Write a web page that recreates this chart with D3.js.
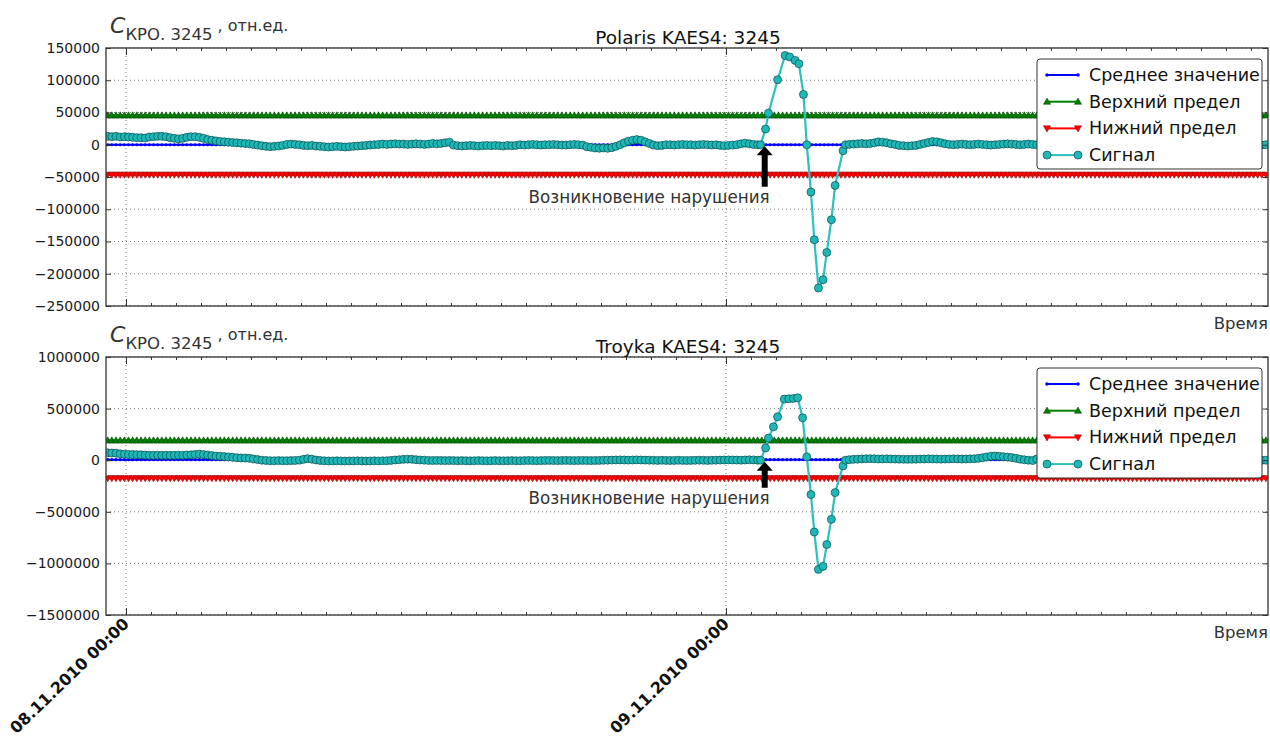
<!DOCTYPE html>
<html>
<head>
<meta charset="utf-8">
<script src="https://cdn.jsdelivr.net/npm/d3@7"></script>
<style>
  body { margin: 0; background: #fff; }
  text { font-family: "DejaVu Sans", sans-serif; }
</style>
</head>
<body>
<div id="chart"></div>
<script>
// ---- data (signal values in thousands of отн.ед.) ----
var sampleStart = new Date(2010, 10, 7, 23, 16);   // first 10-minute sample
var postStart = new Date(2010, 10, 9, 4, 56);      // first sample after the event
var eventDay = new Date(2010, 10, 9, 0, 0);        // event minutes are counted from here
var sampleCount = 279;

var preA = [13, 12.5, 13, 12, 12.5, 12, 11.5, 11, 11, 10.5,
  12, 12.5, 13, 13, 12.5, 11, 10, 9, 10, 11.5, 12.5, 12.5, 11.5, 10,
  8, 7, 6, 5, 4.5, 4, 3.5, 3, 2.5, 2, 1.5, 0.5, -0.5, -1.5, -2.5,
  -3, -2.5, -2, -1, 0.5, 1, 0.5, 0, -1, -1.5, -1, -2,
  -2.5, -3, -3.5, -3, -2.5, -3, -3.5, -3, -2.5, -2, -1.5, -1, -0.5, 0, 0.5,
  1, 0.5, 1, 1.5, 1, 1, 0.5, 1, 1.5, 1, 0.5, 1, 2, 1.5, 2, 3, 4,
  -0.5, -1.5, -2, -1.5, -1, -1.5, -2, -1.5, -1, -1.5, -1, -1.5, -2, -1, -1.5, -1,
  0, -0.5, 0, 0.5, 0, -0.5, 0, 0, 0.5, 0, -0.5, -0.5, 0, 0.5, 0, -0.5,
  -3, -4, -5, -5.5, -5, -5.5, -4.5, -2.5, 0, 3, 5.5, 7, 8, 7, 4.5, 2,
  -0.5, -1.5, -1, 0, 0, -0.5, 0, 0.5, 0, 0, -0.5, 0, 0.5, 0, -0.5, 0,
  -1, -1.5, -1, -0.5, 0, 1.5, 2.5, 1.5, 0.5, 0];
var eventMinA = [83, 95, 102, 124, 142, 153, 166, 175, 186, 194, 204, 212, 222, 233, 242, 253, 262, 281, 287];
var eventA = [0, 24.3, 49, 100.8, 138.4, 136, 130.7, 125.6, 78, 0, -73.3, -147.3, -222.2, -209.3, -167, -116.3, -63.1, -9.3, 0];
var postA = [0.5, 1, 1.5, 2, 1.5, 2, 3, 4.5, 4, 3, 1.5, 0.5,
  -1, -1.5, -2, -1.5, -1, 0.5, 2, 3.5, 5, 4.5, 3, 1.5, 0.5, 0, 0.5,
  1, 0.5, 0, 0.5, 1, 0.5, 0, -0.5, 0, 0.5, 1, 1.5, 1, 0.5, 0, 0.5, 1, 0.5,
  0, -0.5, 0, 0.5, 1, 0.5, 0, -0.5, -1, -0.5, 0, 0.5, 1, 1.5, 1, 0.5, 0, -0.5, 0, 0.5,
  0, -0.5, -1, -1.5, -1, -0.5, 0, 0.5, 1, 0.5, 0, 0, -0.5, 0, 0.5, 1, 0.5, 0, -0.5, -1,
  -0.5, 0, 0.5, 0, -0.5, 0, 0.5, 1, 0.5, 0, -0.5, 0, 0.5, 0, -0.5, 0];

var preB = [72, 70, 68, 62, 58, 56, 55, 54, 52, 50,
  48, 48, 49, 48, 48, 47, 48, 49, 48, 50, 52, 56, 58, 55,
  50, 45, 40, 38, 35, 32, 28, 24, 22, 21, 18, 12, 6, 0, -3,
  -5, -5, -4, -5, -5, -4, -3, 0, 8, 15, 10, 2,
  -3, -6, -7, -7, -6, -7, -8, -7, -7, -6, -7, -8, -7, -6, -7,
  -6, -5, -2, 2, 5, 8, 10, 9, 5, 2, 0, -2, -3, -2, -3, -4, -3,
  -4, -5, -4, -5, -6, -5, -4, -5, -6, -5, -4, -5, -6, -5, -4, -5,
  -5, -4, -3, -4, -5, -4, -3, -2, -3, -4, -3, -2, -3, -4, -3, -2,
  -3, -4, -3, -2, -1, 0, 1, 2, 3, 2, 1, 2, 3, 2, 1, 0,
  -1, -2, -1, -2, -3, -2, -1, -2, -3, -2, -1, 0, -1, -2, -1, 0,
  1, 2, 3, 2, 1, 0, 2, 4, 3, 0];
var eventMinB = [83, 95, 102, 114, 124, 140, 151, 162, 172, 184, 194, 204, 212, 222, 233, 242, 253, 262, 281, 287];
var eventB = [0, 119, 214, 323, 420, 592, 595, 599, 605, 411, 32, -333, -696, -1058, -1029, -818, -573, -314, -55, 0];
var postB = [5, 8, 10, 12, 14, 15, 14, 12, 12, 13, 12, 11,
  10, 9, 8, 9, 10, 11, 12, 13, 12, 11, 10, 11, 12, 13, 12,
  11, 12, 13, 14, 18, 24, 32, 38, 40, 38, 34, 30, 25, 18, 10, 4, 0, -3,
  12, 10, 8, 6, 5, 4, 5, 6, 5, 4, 3, 2, 3, 4, 5, 6, 5, 4, 3, 2,
  1, 0, 1, 2, 3, 4, 3, 2, 1, 0, -1, 0, 1, 2, 1, 0, -1, -2, -1, 0,
  1, 2, 3, 2, 1, 0, 1, 2, 1, 0, -1, 0, 1, 0, -1, 0];

var meanLevel = [0, 5000];
var upperLimit = [45500, 192000];
var lowerLimit = [-46500, -175000];

var titles = ["Polaris KAES4: 3245", "Troyka KAES4: 3245"];
var yDomains = [[-250000, 150000], [-1500000, 1000000]];
var yTicksA = [-250000, -200000, -150000, -100000, -50000, 0, 50000, 100000, 150000];
var yTicksB = [-1500000, -1000000, -500000, 0, 500000, 1000000];
var dayTicks = [new Date(2010, 10, 8), new Date(2010, 10, 9)];
var xDomain = [new Date(2010, 10, 7, 23, 12), new Date(2010, 10, 9, 21, 41)];
var legendNames = ["Среднее значение", "Верхний предел", "Нижний предел", "Сигнал"];
var annotMinute = 93;                 // arrow position, minutes after 09.11 00:00
var annotTextValue = [-90000, -423000];
var annotText = "Возникновение нарушения";

// ---- layout ----
var svgWidth = 1270, svgHeight = 736;
var plotL = 106, plotR = 1268, plotH = 258;
var panelTops = [48, 357];

var svg = d3.select("#chart").append("svg")
  .attr("width", svgWidth)
  .attr("height", svgHeight);
var defs = svg.append("defs");

var x = d3.scaleTime().domain(xDomain).range([plotL, plotR]);
var gridTimes = d3.range(sampleCount).map(function(i) { return d3.timeMinute.offset(sampleStart, i * 10); });

var cSig = "#1fb8b8", cSigEdge = "#0b4c4c", cLine = "#2cc0c0";
var triUp = "M0,-3.6L3.6,2.6L-3.6,2.6Z";
var triDown = "M0,3.6L3.6,-2.6L-3.6,-2.6Z";
var sans = "Liberation Sans, Arial, sans-serif";

function signalPoints(pre, evMin, ev, post) {
  var pts = [];
  pre.forEach(function(v, i) { pts.push({ t: d3.timeMinute.offset(sampleStart, i * 10), v: v * 1000 }); });
  evMin.forEach(function(m, i) { pts.push({ t: d3.timeMinute.offset(eventDay, m), v: ev[i] * 1000 }); });
  post.forEach(function(v, i) { pts.push({ t: d3.timeMinute.offset(postStart, i * 10), v: v * 1000 }); });
  return pts;
}

var signals = [signalPoints(preA, eventMinA, eventA, postA), signalPoints(preB, eventMinB, eventB, postB)];
var yTickSets = [yTicksA, yTicksB];

function drawPanel(k) {
  var top = panelTops[k], bottom = top + plotH;
  var y = d3.scaleLinear().domain(yDomains[k]).range([bottom, top]);
  var g = svg.append("g");

  defs.append("clipPath").attr("id", "clip" + k)
    .append("rect").attr("x", plotL).attr("y", top)
    .attr("width", plotR - plotL).attr("height", plotH);

  // dotted grid
  g.append("g").selectAll("line").data(yTickSets[k]).enter().append("line")
    .attr("x1", plotL).attr("x2", plotR)
    .attr("y1", function(d) { return y(d); }).attr("y2", function(d) { return y(d); })
    .attr("stroke", "#555").attr("stroke-width", 0.8).attr("stroke-dasharray", "1,3");
  g.append("g").selectAll("line").data(dayTicks).enter().append("line")
    .attr("x1", function(d) { return x(d); }).attr("x2", function(d) { return x(d); })
    .attr("y1", top).attr("y2", bottom)
    .attr("stroke", "#555").attr("stroke-width", 0.8).attr("stroke-dasharray", "1,3");

  var data = g.append("g").attr("clip-path", "url(#clip" + k + ")");

  // mean value
  var flat = function(level) {
    return d3.line().x(function(d) { return x(d); }).y(function() { return y(level); });
  };
  data.append("path").datum(gridTimes).attr("d", flat(meanLevel[k]))
    .attr("fill", "none").attr("stroke", "#0000ff").attr("stroke-width", 2);
  data.append("g").selectAll("circle").data(gridTimes).enter().append("circle")
    .attr("cx", function(d) { return x(d); }).attr("cy", y(meanLevel[k])).attr("r", 1.6)
    .attr("fill", "#0000ff");

  // upper / lower limits
  [[upperLimit[k], "#008000", "#003a00", triUp], [lowerLimit[k], "#ff0000", "#7a0000", triDown]].forEach(function(s) {
    data.append("path").datum(gridTimes).attr("d", flat(s[0]))
      .attr("fill", "none").attr("stroke", s[1]).attr("stroke-width", 2);
    data.append("g").selectAll("path").data(gridTimes).enter().append("path")
      .attr("d", s[3])
      .attr("transform", function(d) { return "translate(" + x(d) + "," + y(s[0]) + ")"; })
      .attr("fill", s[1]).attr("stroke", s[2]).attr("stroke-width", 0.5);
  });

  // signal
  var sig = signals[k];
  data.append("path").datum(sig)
    .attr("d", d3.line().x(function(d) { return x(d.t); }).y(function(d) { return y(d.v); }))
    .attr("fill", "none").attr("stroke", cLine).attr("stroke-width", 2.2);
  data.append("g").selectAll("circle").data(sig).enter().append("circle")
    .attr("cx", function(d) { return x(d.t); }).attr("cy", function(d) { return y(d.v); })
    .attr("r", 4).attr("fill", cSig).attr("stroke", cSigEdge).attr("stroke-width", 0.7);

  // axes (ticks pointing inward)
  var hours = x.ticks(d3.timeHour.every(1));
  var axes = [
    [d3.axisBottom(x).tickValues(hours).tickSizeInner(-3), "translate(0," + bottom + ")"],
    [d3.axisTop(x).tickValues(hours).tickSizeInner(-3), "translate(0," + top + ")"],
    [d3.axisBottom(x).tickValues(dayTicks).tickSizeInner(-7), "translate(0," + bottom + ")"],
    [d3.axisTop(x).tickValues(dayTicks).tickSizeInner(-7), "translate(0," + top + ")"],
    [d3.axisRight(y).tickValues(yTickSets[k]).tickSizeInner(-5), "translate(" + plotR + ",0)"]
  ];
  axes.forEach(function(a) {
    var ax = g.append("g").attr("transform", a[1])
      .call(a[0].tickSizeOuter(0).tickFormat(""));
    ax.select(".domain").remove();
    ax.selectAll("line").attr("stroke", "#333");
  });
  var left = g.append("g").attr("transform", "translate(" + plotL + ",0)")
    .call(d3.axisLeft(y).tickValues(yTickSets[k]).tickSizeInner(-5).tickSizeOuter(0)
      .tickPadding(6).tickFormat(d3.format("d")));
  left.select(".domain").remove();
  left.selectAll("line").attr("stroke", "#333");
  left.selectAll("text").attr("font-size", 14).attr("fill", "#1a1a1a")
    .attr("font-family", "DejaVu Sans");

  g.append("rect").attr("x", plotL).attr("y", top)
    .attr("width", plotR - plotL).attr("height", plotH)
    .attr("fill", "none").attr("stroke", "#333").attr("stroke-width", 1.3);

  // title
  g.append("text").attr("x", 688).attr("y", top - 4).attr("text-anchor", "middle")
    .attr("font-family", sans).attr("font-size", 18.5)
    .attr("fill", "#111").text(titles[k]);

  // y label
  var lab = g.append("text").attr("x", 110).attr("y", top - 15)
    .attr("font-family", sans).attr("fill", "#333");
  lab.append("tspan").attr("font-style", "italic").attr("font-size", 22).text("C");
  lab.append("tspan").attr("font-size", 16.5).attr("dy", 7).text("КРО. 3245");
  lab.append("tspan").attr("font-size", 16).attr("dy", -9).text(" , отн.ед.");

  // x label
  g.append("text").attr("x", plotR).attr("y", bottom + 23).attr("text-anchor", "end")
    .attr("font-family", sans).attr("font-size", 16.5)
    .attr("fill", "#333").text("Время");

  // annotation arrow
  var ax0 = x(d3.timeMinute.offset(eventDay, annotMinute));
  var textY = y(annotTextValue[k]);
  var tipY = y(0) + 1.5, baseY = textY - 16;
  g.append("path")
    .attr("d", "M" + ax0 + "," + tipY + "L" + (ax0 + 8) + "," + (tipY + 9) + "L" + (ax0 + 3) + "," + (tipY + 9) +
      "L" + (ax0 + 3) + "," + baseY + "L" + (ax0 - 3) + "," + baseY + "L" + (ax0 - 3) + "," + (tipY + 9) +
      "L" + (ax0 - 8) + "," + (tipY + 9) + "Z")
    .attr("fill", "#000");
  g.append("text").attr("x", ax0 + 5).attr("y", textY).attr("text-anchor", "end")
    .attr("font-family", sans).attr("font-size", 16.8)
    .attr("fill", "#333").text(annotText);

  // legend
  var lg = g.append("g").attr("transform", "translate(1037," + (top + 11) + ")");
  lg.append("rect").attr("width", 225).attr("height", 110).attr("rx", 3)
    .attr("fill", "#fff").attr("stroke", "#333").attr("stroke-width", 1);
  var styles = [
    ["#0000ff", null, null], ["#008000", triUp, "#003a00"], ["#ff0000", triDown, "#7a0000"], [cLine, "circle", cSigEdge]
  ];
  legendNames.forEach(function(name, i) {
    var ry = 16 + i * 26.7;
    var row = lg.append("g").attr("transform", "translate(0," + ry + ")");
    row.append("line").attr("x1", 10).attr("x2", 41).attr("stroke", styles[i][0]).attr("stroke-width", 2);
    [10, 41].forEach(function(px) {
      if (styles[i][1] === null) {
        row.append("circle").attr("cx", px).attr("r", 1.8).attr("fill", "#0000ff");
      } else if (styles[i][1] === "circle") {
        row.append("circle").attr("cx", px).attr("r", 4).attr("fill", cSig)
          .attr("stroke", cSigEdge).attr("stroke-width", 0.7);
      } else {
        row.append("path").attr("d", styles[i][1]).attr("transform", "translate(" + px + ",0)")
          .attr("fill", styles[i][0]).attr("stroke", styles[i][2]).attr("stroke-width", 0.5);
      }
    });
    row.append("text").attr("x", 52).attr("y", 6)
      .attr("font-family", sans).attr("font-size", 17.5)
      .attr("fill", "#111").text(name);
  });

  return y;
}

drawPanel(0);
drawPanel(1);

// rotated date labels under the lower panel
var fmt = d3.timeFormat("%d.%m.%Y %H:%M");
svg.append("g").selectAll("text").data(dayTicks).enter().append("text")
  .attr("transform", function(d) { return "translate(" + (x(d) + 4) + "," + (panelTops[1] + plotH + 10) + ") rotate(-44)"; })
  .attr("text-anchor", "end")
  .attr("font-family", "DejaVu Sans").attr("font-weight", "bold").attr("font-size", 16)
  .attr("fill", "#111")
  .text(function(d) { return fmt(d); });
</script>
</body>
</html>
